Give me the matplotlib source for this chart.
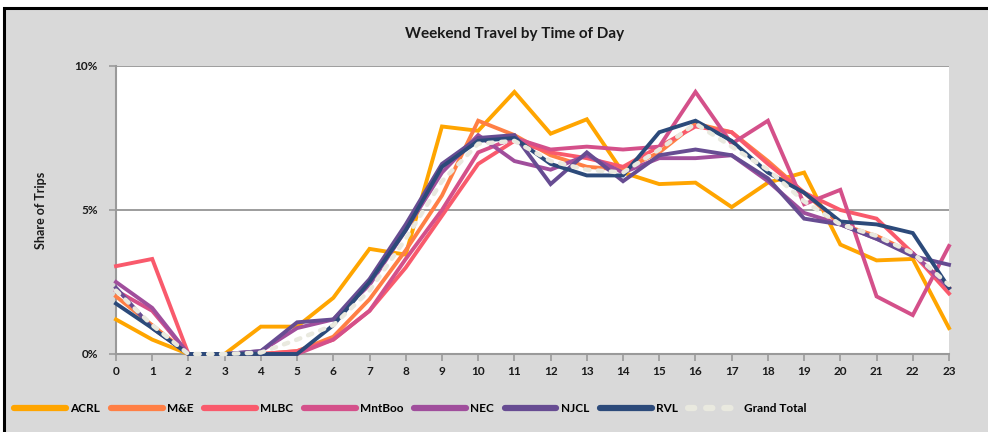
import matplotlib.pyplot as plt
from matplotlib.patches import Rectangle
from matplotlib.ticker import FuncFormatter

# Share of trips (%) by hour of day, weekend
hours = list(range(24))
series_names = ['ACRL', 'M&E', 'MLBC', 'MntBoo', 'NEC', 'NJCL', 'RVL', 'Grand Total']

acrl = [1.2, 0.5, 0.0, 0.0, 0.95, 0.95, 1.95, 3.65, 3.45, 7.9, 7.75, 9.1,
        7.65, 8.15, 6.3, 5.9, 5.95, 5.1, 5.95, 6.3, 3.8, 3.25, 3.3, 0.9]
m_e = [2.0, 1.0, 0.0, 0.0, 0.0, 0.1, 0.6, 1.9, 3.6, 5.5, 8.1, 7.6,
       6.9, 6.5, 6.4, 7.0, 8.0, 7.7, 6.7, 5.6, 4.5, 4.1, 3.5, 2.3]
mlbc = [3.05, 3.3, 0.0, 0.0, 0.0, 0.1, 0.5, 1.5, 3.0, 4.8, 6.6, 7.4,
        7.0, 6.8, 6.5, 7.2, 7.9, 7.7, 6.6, 5.6, 5.0, 4.7, 3.5, 2.1]
mntboo = [2.2, 1.5, 0.0, 0.0, 0.0, 0.0, 0.5, 1.5, 3.3, 5.0, 7.0, 7.5,
          7.1, 7.2, 7.1, 7.2, 9.1, 7.3, 8.1, 5.2, 5.7, 2.0, 1.35, 3.75]
nec = [2.5, 1.6, 0.0, 0.0, 0.1, 0.9, 1.2, 2.4, 4.3, 6.3, 7.6, 6.7,
       6.4, 6.9, 6.3, 6.8, 6.8, 6.9, 6.0, 4.9, 4.5, 4.0, 3.5, 2.3]
njcl = [2.3, 0.9, 0.0, 0.0, 0.1, 1.1, 1.2, 2.6, 4.5, 6.6, 7.5, 7.6,
        5.9, 7.0, 6.0, 6.9, 7.1, 6.9, 6.1, 4.7, 4.5, 4.0, 3.4, 3.1]
rvl = [1.75, 0.9, 0.0, 0.0, 0.0, 0.0, 1.0, 2.5, 4.3, 6.5, 7.4, 7.5,
       6.6, 6.2, 6.2, 7.7, 8.1, 7.4, 6.3, 5.6, 4.6, 4.5, 4.2, 2.3]
grand_total = [2.2, 1.0, 0.0, 0.0, 0.05, 0.5, 1.0, 2.2, 4.0, 6.0, 7.3, 7.4,
               6.7, 6.4, 6.3, 7.1, 8.0, 7.2, 6.4, 5.3, 4.5, 4.1, 3.5, 2.4]

colors = ['#FFA500', '#FF7F45', '#F95A6C', '#D4508A', '#A04E9C', '#674C92', '#2C4A7A', '#E9E9DF']

plt.rcParams['font.family'] = ['Lato', 'DejaVu Sans']

fig = plt.figure(figsize=(9.88, 4.32), dpi=100)
fig.patch.set_facecolor('white')

# gray chart area with black frame (top/left visible)
frame = Rectangle((4 / 988, -0.05), 1.05, (432 - 8) / 432 + 0.05,
                  transform=fig.transFigure, facecolor='#D9D9D9',
                  edgecolor='black', linewidth=2.2, zorder=-10)
fig.patches.append(frame)

ax = fig.add_axes([116 / 988, 1 - 354 / 432, (949 - 116) / 988, (354 - 66) / 432])
ax.set_facecolor('white')

data = [acrl, m_e, mlbc, mntboo, nec, njcl, rvl]
for name, vals, c in zip(series_names[:-1], data, colors[:-1]):
    ax.plot(hours, [v / 100 for v in vals], color=c, linewidth=2.8,
            label=name, solid_joinstyle='miter', clip_on=False, zorder=3)

ax.plot(hours, [v / 100 for v in grand_total], color=colors[-1], linewidth=3.2,
        linestyle=(0, (1.0, 1.9)), dash_capstyle='round', label='Grand Total',
        clip_on=False, zorder=4)

ax.set_xlim(0, 23)
ax.set_ylim(0, 0.10)
ax.set_xticks(hours)
ax.set_yticks([0, 0.05, 0.10])
ax.yaxis.set_major_formatter(FuncFormatter(lambda v, p: f'{v * 100:.0f}%'))
ax.grid(axis='y', color='#8C8C8C', linewidth=1.2, zorder=1)
ax.set_axisbelow(True)

for s in ['top', 'right']:
    ax.spines[s].set_visible(False)
for s in ['left', 'bottom']:
    ax.spines[s].set_color('#9A9A9A')
    ax.spines[s].set_linewidth(1.5)

ax.tick_params(axis='both', colors='#9A9A9A', length=5, width=1.2, direction='out')
for lbl in ax.get_xticklabels() + ax.get_yticklabels():
    lbl.set_color('#1a1a1a')
    lbl.set_fontweight('bold')
    lbl.set_fontsize(8.5)
ax.tick_params(axis='y', pad=8)

ax.set_ylabel('Share of Trips', fontsize=9, fontweight='bold', color='#1a1a1a', labelpad=20)

fig.text(515 / 988, 1 - 34 / 432, 'Weekend Travel by Time of Day',
         ha='center', va='center', fontsize=11, fontweight='bold', color='#1a1a1a')

leg = fig.legend(loc='center left', bbox_to_anchor=(14 / 988, 1 - 409 / 432), ncol=8,
                 frameon=False, borderaxespad=0, borderpad=0,
                 handlelength=4.4, handletextpad=0.35, columnspacing=0.9,
                 prop={'size': 8.5, 'weight': 'bold'})
for h in leg.legend_handles:
    h.set_linewidth(4.5)
    h.set_solid_capstyle('round')

plt.savefig('out.png', dpi=100, facecolor=fig.get_facecolor())
